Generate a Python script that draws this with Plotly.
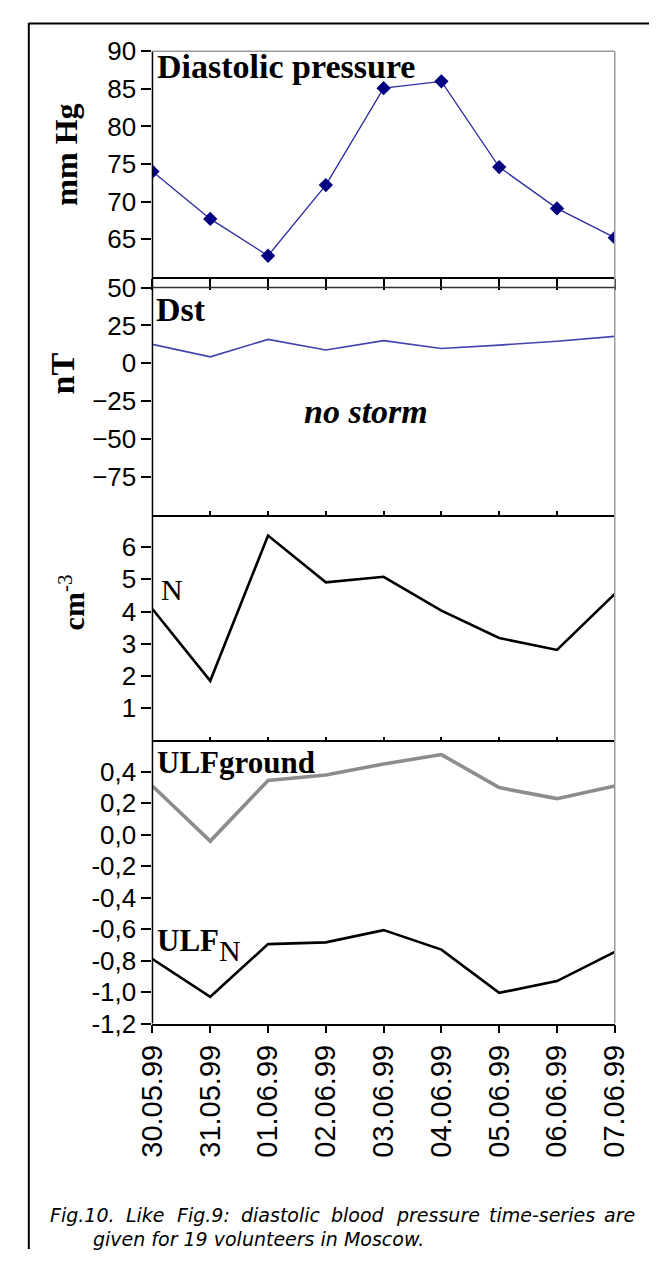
import plotly.graph_objects as go

# ---------------- data ----------------
dates = ["30.05.99", "31.05.99", "01.06.99", "02.06.99", "03.06.99",
         "04.06.99", "05.06.99", "06.06.99", "07.06.99"]
diastolic = [74.0, 67.7, 62.8, 72.2, 85.1, 86.0, 74.6, 69.1, 65.2]
dst = [12.5, 4.3, 15.8, 8.8, 15.0, 9.8, 12.0, 14.6, 17.8]
n_density = [4.08, 1.85, 6.36, 4.91, 5.08, 4.03, 3.18, 2.81, 4.55]
ulf_ground = [0.31, -0.04, 0.345, 0.38, 0.45, 0.51, 0.30, 0.23, 0.31]
ulf_n = [-0.79, -1.03, -0.695, -0.684, -0.606, -0.73, -1.005, -0.93, -0.745]

ticks_p1 = [65, 70, 75, 80, 85, 90]
ticks_p2 = [-75, -50, -25, 0, 25, 50]
ticks_p3 = [1, 2, 3, 4, 5, 6]
ticks_p4 = [-1.2, -1.0, -0.8, -0.6, -0.4, -0.2, 0.0, 0.2, 0.4]
ticks_p4_text = ["-1,2", "-1,0", "-0,8", "-0,6", "-0,4", "-0,2", "0,0", "0,2", "0,4"]

caption_line1 = ["Fig.10.", "Like", "Fig.9:", "diastolic", "blood",
                 "pressure", "time-series", "are"]
caption_line2 = "given for 19 volunteers in Moscow."

# page body margin of the html page (8 px) is compensated
OFF = 8
W, H = 664 - OFF, 1272 - 2 * OFF
xs = list(range(len(dates)))


def px(x):
    return (x - OFF) / W


def py(y):
    return 1 - (y - OFF) / H


X0, X1 = 142, 628
panels = [(37, 268), (279, 512), (512, 743), (743, 1033)]

SANS = "Liberation Sans, Arial, sans-serif"
SERIF = "Liberation Serif, Times New Roman, serif"

fig = go.Figure()

fig.add_trace(go.Scatter(x=xs, y=diastolic, mode="lines+markers",
                         line=dict(color="#2b2ba0", width=1.3),
                         marker=dict(symbol="diamond", size=11, color="#000080"),
                         xaxis="x", yaxis="y", showlegend=False))
fig.add_trace(go.Scatter(x=xs, y=dst, mode="lines",
                         line=dict(color="#4343b0", width=1.6),
                         xaxis="x2", yaxis="y2", showlegend=False))
fig.add_trace(go.Scatter(x=xs, y=n_density, mode="lines",
                         line=dict(color="black", width=2.6),
                         xaxis="x3", yaxis="y3", showlegend=False))
fig.add_trace(go.Scatter(x=xs, y=ulf_ground, mode="lines",
                         line=dict(color="#8c8c8c", width=3.6),
                         xaxis="x4", yaxis="y4", showlegend=False))
fig.add_trace(go.Scatter(x=xs, y=ulf_n, mode="lines",
                         line=dict(color="black", width=2.6),
                         xaxis="x4", yaxis="y4", showlegend=False))

xdom = [px(X0), px(X1)]
tickfont = dict(family=SANS, size=26, color="black")


def xaxis(i, ticks, ticklen, labels=False):
    return dict(domain=xdom, range=[0, len(dates) - 1], anchor="y" if i == 1 else f"y{i}",
                tickvals=xs, ticktext=dates, showticklabels=labels,
                ticks=ticks, ticklen=ticklen, tickwidth=1.5, tickcolor="black",
                showline=True, linecolor="black", linewidth=1.5,
                showgrid=False, zeroline=False, fixedrange=True,
                tickangle=-90, tickfont=dict(family=SANS, size=29, color="black"))


def yaxis(i, rng, tv, tt=None):
    top, bot = panels[i - 1]
    d = dict(domain=[py(bot), py(top)], range=rng, anchor="x" if i == 1 else f"x{i}",
             tickvals=tv, ticks="outside", ticklen=10, tickwidth=1.5, tickcolor="black",
             showline=False, showgrid=False, zeroline=False, fixedrange=True,
             tickfont=tickfont)
    if tt is not None:
        d["ticktext"] = tt
    return d


fig.update_layout(
    width=W, height=H, margin=dict(l=0, r=0, t=0, b=0),
    paper_bgcolor="white", plot_bgcolor="white",
    xaxis=xaxis(1, "outside", 11),
    xaxis2=xaxis(2, "inside", 4),
    xaxis3=xaxis(3, "inside", 4),
    xaxis4=xaxis(4, "outside", 8, labels=True),
    yaxis=yaxis(1, [60, 90], ticks_p1),
    yaxis2=yaxis(2, [-100, 50], ticks_p2),
    yaxis3=yaxis(3, [0, 7], ticks_p3),
    yaxis4=yaxis(4, [-1.2, 0.6], ticks_p4, ticks_p4_text),
)

shapes = []
# outer frame (left + top)
shapes.append(dict(type="line", xref="paper", yref="paper", x0=px(12), x1=px(12),
                   y0=py(8), y1=0, line=dict(color="black", width=2)))
shapes.append(dict(type="line", xref="paper", yref="paper", x0=px(12), x1=1,
                   y0=py(8.5), y1=py(8.5), line=dict(color="black", width=2)))
# continuous left axis line
shapes.append(dict(type="line", xref="paper", yref="paper", x0=px(X0), x1=px(X0),
                   y0=py(37), y1=py(1033), line=dict(color="black", width=1.5)))
# right gray border
shapes.append(dict(type="line", xref="paper", yref="paper", x0=px(X1), x1=px(X1),
                   y0=py(37), y1=py(1033), line=dict(color="#9a9a9a", width=1.5)))
# top borders
shapes.append(dict(type="line", xref="paper", yref="paper", x0=px(X0), x1=px(X1),
                   y0=py(37), y1=py(37), line=dict(color="#9a9a9a", width=1.5)))
shapes.append(dict(type="line", xref="paper", yref="paper", x0=px(X0), x1=px(X1),
                   y0=py(279), y1=py(279), line=dict(color="#333333", width=1.5)))
fig.update_layout(shapes=shapes)

ann = []


def label(text, x, y, size, family=SERIF, xanchor="left", angle=0, italic=False):
    ann.append(dict(text=text, x=px(x), y=py(y), xref="paper", yref="paper",
                    xanchor=xanchor, yanchor="middle", showarrow=False,
                    textangle=angle, borderpad=0,
                    font=dict(family=family, size=size, color="black",
                              style="italic" if italic else "normal")))


label("<b>Diastolic pressure</b>", 146, 53, 34)
label("<b>Dst</b>", 145, 302, 34)
label("<b><i>no storm</i></b>", 366, 406, 34, xanchor="center")
label("N", 150, 588, 30)
label("<b>ULFground</b>", 146, 766, 31)
label("<b>ULF</b>", 146, 948, 31)
label("N", 211, 958, 30)

# axis titles
label("<b>mm Hg</b>", 51, 143, 32, xanchor="center", angle=-90)
label("<b>nT</b>", 47, 367, 34, xanchor="center", angle=-90)
label("<b>cm</b><sup>-3</sup>", 57, 602, 30, xanchor="center", angle=-90)

# caption (justified first line)
CAP = "DejaVu Sans, Verdana, sans-serif"
starts = [33, 112.7, 166.5, 234.5, 328.7, 396.6, 494.8, 616]
for w, x in zip(caption_line1, starts):
    label(w, x, 1229, 19, family=CAP, italic=True)
label(caption_line2, 78, 1254, 19, family=CAP, italic=True)

fig.update_layout(annotations=ann)

fig.write_html("out.html")
